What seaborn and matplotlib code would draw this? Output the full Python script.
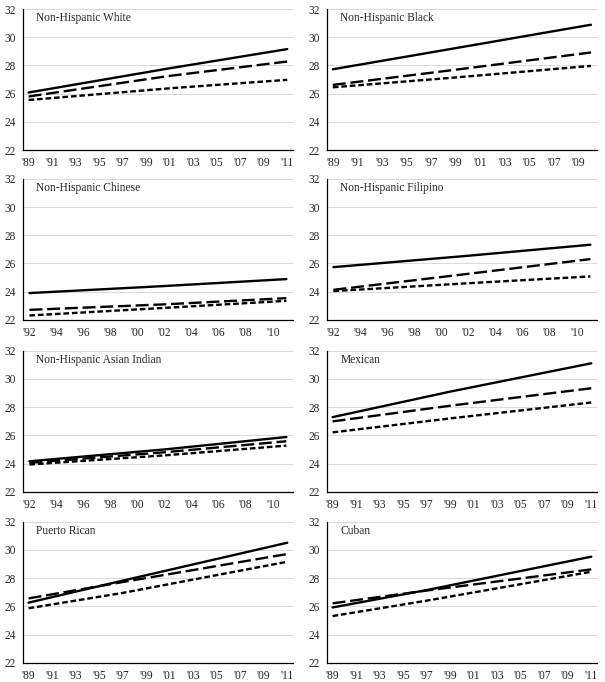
import pandas as pd
import matplotlib
matplotlib.use("Agg")
import matplotlib.pyplot as plt
import seaborn as sns

# groupes (titres des panneaux)
groups = ["Non-Hispanic White", "Non-Hispanic Black",
          "Non-Hispanic Chinese", "Non-Hispanic Filipino",
          "Non-Hispanic Asian Indian", "Mexican",
          "Puerto Rican", "Cuban"]

# années (début, milieu, fin)
years = {
    "Non-Hispanic White": [1989, 2001, 2011],
    "Non-Hispanic Black": [1989, 1999, 2010],
    "Non-Hispanic Chinese": [1992, 2002, 2011],
    "Non-Hispanic Filipino": [1992, 2002, 2011],
    "Non-Hispanic Asian Indian": [1992, 2002, 2011],
    "Mexican": [1989, 1999, 2011],
    "Puerto Rican": [1989, 1997, 2011],
    "Cuban": [1989, 1997, 2011],
}

# séries : trait plein, tirets longs, tirets courts
solid = {
    "Non-Hispanic White": [26.08, 27.8, 29.16],
    "Non-Hispanic Black": [27.73, 29.23, 30.89],
    "Non-Hispanic Chinese": [23.9, 24.4, 24.89],
    "Non-Hispanic Filipino": [25.74, 26.55, 27.33],
    "Non-Hispanic Asian Indian": [24.16, 25.0, 25.88],
    "Mexican": [27.29, 29.1, 31.11],
    "Puerto Rican": [26.26, 27.82, 30.51],
    "Cuban": [25.92, 27.15, 29.52],
}
long_dash = {
    "Non-Hispanic White": [25.8, 27.26, 28.28],
    "Non-Hispanic Black": [26.62, 27.7, 28.92],
    "Non-Hispanic Chinese": [22.71, 23.1, 23.54],
    "Non-Hispanic Filipino": [24.13, 25.27, 26.31],
    "Non-Hispanic Asian Indian": [24.05, 24.8, 25.58],
    "Mexican": [26.99, 28.1, 29.34],
    "Puerto Rican": [26.56, 27.72, 29.71],
    "Cuban": [26.21, 27.12, 28.62],
}
short_dash = {
    "Non-Hispanic White": [25.55, 26.38, 26.98],
    "Non-Hispanic Black": [26.45, 27.15, 27.97],
    "Non-Hispanic Chinese": [22.31, 22.85, 23.35],
    "Non-Hispanic Filipino": [24.04, 24.6, 25.08],
    "Non-Hispanic Asian Indian": [23.93, 24.58, 25.27],
    "Mexican": [26.21, 27.2, 28.33],
    "Puerto Rican": [25.86, 26.95, 29.16],
    "Cuban": [25.31, 26.4, 28.45],
}

# plage d'années de l'axe x (étiquettes tous les 2 ans)
x_range = {
    "Non-Hispanic White": (1989, 2011),
    "Non-Hispanic Black": (1989, 2010),
    "Non-Hispanic Chinese": (1992, 2011),
    "Non-Hispanic Filipino": (1992, 2011),
    "Non-Hispanic Asian Indian": (1992, 2011),
    "Mexican": (1989, 2011),
    "Puerto Rican": (1989, 2011),
    "Cuban": (1989, 2011),
}

y_ticks = [22, 24, 26, 28, 30, 32]

rows = []
for g in groups:
    for name, src in [("solid", solid), ("long", long_dash), ("short", short_dash)]:
        for yr, v in zip(years[g], src[g]):
            rows.append({"group": g, "series": name, "year": yr, "value": v})
df = pd.DataFrame(rows)

sns.set_style("white")
plt.rcParams["font.family"] = ["Liberation Serif", "DejaVu Serif"]

fig = plt.figure(figsize=(6.05, 6.82), dpi=100)

lefts = [0.0375, 0.540]
bottoms = [0.780, 0.531, 0.279, 0.0283]
w, h = 0.447, 0.2067

dash_styles = {"solid": "", "long": (5.5, 2.0), "short": (2.4, 1.2)}

for i, g in enumerate(groups):
    ax = fig.add_axes([lefts[i % 2], bottoms[i // 2], w, h])
    sub = df[df["group"] == g]
    sns.lineplot(data=sub, x="year", y="value", style="series",
                 style_order=["solid", "long", "short"], dashes=dash_styles,
                 color="black", linewidth=1.7, legend=False, ax=ax)

    x0, x1 = x_range[g]
    ax.set_xlim(x0 - 0.5, x1 + 0.5)
    ax.set_ylim(22, 32)
    ax.set_yticks(y_ticks)
    ax.set_yticklabels([str(t) for t in y_ticks], fontsize=8.3)
    ticks = list(range(x0, x1 + 1, 2))
    ax.set_xticks(ticks)
    ax.set_xticklabels(["'" + str(t)[2:] for t in ticks], fontsize=8.3)
    ax.set_xticks([t - 0.5 for t in range(x0, x1 + 2)], minor=True)
    ax.tick_params(axis="x", which="major", length=0, pad=5)
    ax.tick_params(axis="x", which="minor", length=3, width=0.8, color="black", direction="out")
    ax.tick_params(axis="y", length=3, width=0.8, color="black", direction="out", pad=2)
    ax.set_xlabel("")
    ax.set_ylabel("")
    ax.grid(axis="y", color="#d9d9d9", linewidth=0.7)
    ax.set_axisbelow(True)
    for s in ["top", "right"]:
        ax.spines[s].set_visible(False)
    for s in ["left", "bottom"]:
        ax.spines[s].set_color("black")
        ax.spines[s].set_linewidth(0.9)
    ax.text(0.05, 0.935, g, transform=ax.transAxes, fontsize=8.3,
            ha="left", va="center")

fig.savefig("out.png", dpi=100)
